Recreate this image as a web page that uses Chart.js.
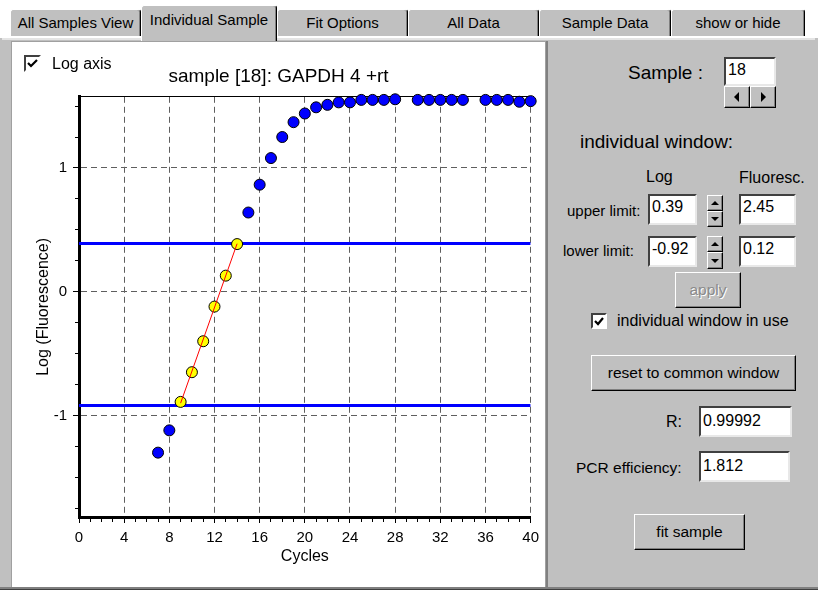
<!DOCTYPE html>
<html>
<head>
<meta charset="utf-8">
<script src="https://cdn.jsdelivr.net/npm/chart.js@4.4.1/dist/chart.umd.min.js"></script>
<style>
body { margin:0; width:818px; height:590px; overflow:hidden; background:#c0c0c0; position:relative;
       font-family:'Liberation Sans', Arial, sans-serif; color:#000; }
.t { position:absolute; white-space:nowrap; line-height:20px; }
.tab { position:absolute; top:9px; height:27px; box-sizing:border-box; background:#c0c0c0;
       border-top:1px solid #fff; border-left:1px solid #fff; border-right:1px solid #000;
       box-shadow: inset -1px 0 0 #808080; border-radius:3px 3px 0 0;
       text-align:center; font-size:15px; line-height:26px; }
.tab.sel { top:5px; height:36px; z-index:2; line-height:28px; }
.box { position:absolute; box-sizing:border-box; background:#fff; border:2px solid;
       border-color:#404040 #e8e8e8 #e8e8e8 #404040; font-size:16px; line-height:22px; padding-left:2px; }
.btn { position:absolute; box-sizing:border-box; background:#c0c0c0; border:1px solid;
       border-color:#fff #000 #000 #fff; box-shadow: inset -1px -1px 0 #808080;
       text-align:center; font-size:15.5px; }
.cb { position:absolute; width:17px; height:17px; box-sizing:border-box; background:#fff; border:2px solid;
      border-color:#404040 #fff #fff #404040; }
.up, .dn, .lf, .rt { position:absolute; width:0; height:0; left:50%; top:50%; }
.up { border-left:4px solid transparent; border-right:4px solid transparent; border-bottom:4px solid #000; margin:-2px 0 0 -4px; }
.dn { border-left:4px solid transparent; border-right:4px solid transparent; border-top:4px solid #000; margin:-2px 0 0 -4px; }
.lf { border-top:5px solid transparent; border-bottom:5px solid transparent; border-right:5px solid #000; margin:-5px 0 0 -3px; }
.rt { border-top:5px solid transparent; border-bottom:5px solid transparent; border-left:5px solid #000; margin:-5px 0 0 -2px; }
</style>
</head>
<body>

<div style="position:absolute;left:0;top:0;width:818px;height:38px;background:#fff"></div>
<div style="position:absolute;left:2px;top:38px;width:813px;height:2px;background:#e4e4e4"></div>

<div class="tab" style="left:10px;width:131px">All Samples View</div>
<div class="tab sel" style="left:141px;width:136px">Individual Sample</div>
<div class="tab" style="left:277px;width:131px">Fit Options</div>
<div class="tab" style="left:408px;width:131px">All Data</div>
<div class="tab" style="left:539px;width:132px">Sample Data</div>
<div class="tab" style="left:671px;width:134px">show or hide</div>

<!-- left page with the plot -->
<div style="position:absolute;left:11px;top:41px;width:535px;height:546px;box-sizing:border-box;background:#fff;border-left:1px solid #a0a0a0;border-top:1px solid #a0a0a0"></div>
<div style="position:absolute;left:545px;top:41px;width:1px;height:546px;background:#a0a0a0"></div>
<div style="position:absolute;left:546px;top:41px;width:2px;height:546px;background:#808080"></div>
<div style="position:absolute;left:0;top:587px;width:818px;height:2px;background:#808080"></div>
<div style="position:absolute;left:0;top:589px;width:818px;height:1px;background:#404040"></div>

<canvas id="plot" width="533" height="545" style="position:absolute;left:12px;top:42px"></canvas>

<div class="cb" style="left:24px;top:55px"><svg width="13" height="13" style="position:absolute;left:0;top:0"><polyline points="2,6 5,9 11,3" fill="none" stroke="#000" stroke-width="2.2"/></svg></div>
<div class="t" style="left:52px;top:54px;font-size:16px">Log axis</div>

<!-- right panel -->
<div class="t" style="left:628px;top:63px;font-size:19px">Sample :</div>
<div class="box" style="left:724px;top:57px;width:52px;height:29px">18</div>
<div class="btn" style="left:724px;top:86px;width:26px;height:22px"><div class="lf"></div></div>
<div class="btn" style="left:750px;top:86px;width:26px;height:22px"><div class="rt"></div></div>

<div class="t" style="left:580px;top:132px;font-size:19px">individual window:</div>
<div class="t" style="left:646px;top:167px;font-size:16px">Log</div>
<div class="t" style="left:739px;top:168px;font-size:16px">Fluoresc.</div>

<div class="t" style="left:567px;top:201px;font-size:15px">upper limit:</div>
<div class="box" style="left:648px;top:194px;width:49px;height:31px">0.39</div>
<div class="btn" style="left:707px;top:195px;width:16px;height:16px"><div class="up"></div></div>
<div class="btn" style="left:707px;top:211px;width:16px;height:16px"><div class="dn"></div></div>
<div class="box" style="left:739px;top:194px;width:57px;height:31px">2.45</div>

<div class="t" style="left:563px;top:241px;font-size:15px">lower limit:</div>
<div class="box" style="left:648px;top:236px;width:49px;height:31px">-0.92</div>
<div class="btn" style="left:707px;top:236px;width:16px;height:16px"><div class="up"></div></div>
<div class="btn" style="left:707px;top:252px;width:16px;height:17px"><div class="dn"></div></div>
<div class="box" style="left:739px;top:236px;width:57px;height:31px">0.12</div>

<div class="btn" style="left:675px;top:272px;width:66px;height:36px;line-height:33px;color:#8a8a8a;text-shadow:1px 1px 0 #fff">apply</div>

<div class="cb" style="left:591px;top:313px;width:16px;height:16px"><svg width="12" height="12" style="position:absolute;left:0;top:0"><polyline points="2,6 5,9 10,3" fill="none" stroke="#000" stroke-width="2.2"/></svg></div>
<div class="t" style="left:617px;top:311px;font-size:16px">individual window in use</div>

<div class="btn" style="left:591px;top:355px;width:205px;height:36px;line-height:33px">reset to common window</div>

<div class="t" style="left:666px;top:412px;font-size:16px">R:</div>
<div class="box" style="left:699px;top:406px;width:93px;height:31px;line-height:25px">0.99992</div>
<div class="t" style="left:576px;top:458px;font-size:15.5px">PCR efficiency:</div>
<div class="box" style="left:699px;top:451px;width:91px;height:31px;line-height:25px">1.812</div>

<div class="btn" style="left:634px;top:514px;width:111px;height:36px;line-height:33px">fit sample</div>

<script>
// sample 18, log10 fluorescence per cycle (cycles 29 and 35 not shown)
const cycles   = [7, 8, 9, 10, 11, 12, 13, 14, 15, 16, 17, 18, 19, 20, 21, 22, 23, 24, 25, 26, 27, 28,
                  30, 31, 32, 33, 34, 36, 37, 38, 39, 40];
const logFluor = [-1.30, -1.12, -0.89, -0.65, -0.40, -0.12, 0.13, 0.385, 0.64, 0.865, 1.08, 1.25, 1.37, 1.44,
                  1.49, 1.51, 1.53, 1.53, 1.55, 1.55, 1.55, 1.555,
                  1.55, 1.55, 1.55, 1.55, 1.55, 1.55, 1.55, 1.55, 1.535, 1.54];

// individual window (log) and the fitted line
const upperLimit = 0.39;
const lowerLimit = -0.92;
const fitCycles = [9, 14];
const fitLog    = [-0.90, 0.388];

const xTickLabels = [0, 4, 8, 12, 16, 20, 24, 28, 32, 36, 40];
const yTickLabels = [-1, 0, 1];

const FONT = "'Liberation Sans', Arial, sans-serif";

const inWindow = [], outside = [];
cycles.forEach(function (c, i) {
    const v = logFluor[i];
    (v >= lowerLimit && v <= upperLimit ? inWindow : outside).push({x: c, y: v});
});
const fitLine = fitCycles.map(function (c, i) { return {x: c, y: fitLog[i]}; });
const xFirst = xTickLabels[0], xLast = xTickLabels[xTickLabels.length - 1];

new Chart('plot', {
    type: 'scatter',
    data: {
        datasets: [
            { data: fitLine, showLine: true, borderColor: '#ff0000', borderWidth: 1, pointRadius: 0, clip: false },
            { data: inWindow, backgroundColor: '#ffff00', borderColor: '#000', borderWidth: 1, pointRadius: 5.5, clip: false },
            { data: outside, backgroundColor: '#0000ff', borderColor: '#000', borderWidth: 1, pointRadius: 5.5, clip: false },
            { data: [{x: xFirst, y: upperLimit}, {x: xLast, y: upperLimit}], showLine: true,
              borderColor: '#0000ff', borderWidth: 3, pointRadius: 0 },
            { data: [{x: xFirst, y: lowerLimit}, {x: xLast, y: lowerLimit}], showLine: true,
              borderColor: '#0000ff', borderWidth: 3, pointRadius: 0 }
        ]
    },
    options: {
        responsive: false,
        animation: false,
        layout: { padding: 0 },
        plugins: {
            legend: { display: false },
            tooltip: { enabled: false },
            title: {
                display: true,
                text: 'sample [18]: GAPDH 4 +rt',
                color: '#000',
                font: { family: FONT, size: 19, weight: 'normal' },
                padding: { top: 23, bottom: 9 }
            }
        },
        scales: {
            x: {
                type: 'linear', position: 'bottom', min: xFirst, max: xLast,
                afterFit: function (s) { s.height = 70; },
                ticks: {
                    stepSize: 1, autoSkip: false, maxRotation: 0, padding: 6, color: '#000',
                    font: { family: FONT, size: 15 },
                    callback: function (v) { return xTickLabels.includes(v) ? String(v) : ''; }
                },
                grid: {
                    color: function (ctx) { return ctx.tick && xTickLabels.includes(ctx.tick.value) ? '#5f5f5f' : 'rgba(0,0,0,0)'; },
                    lineWidth: 1, tickLength: 6, tickColor: '#000', tickWidth: 1,
                    tickBorderDash: function (ctx) { return ctx.tick && xTickLabels.includes(ctx.tick.value) ? [] : [3, 20]; }
                },
                border: { display: true, color: '#000', width: 3, dash: [6, 4] },
                title: {
                    display: true, text: 'Cycles', color: '#000',
                    font: { family: FONT, size: 16 }, padding: { top: 0, bottom: 21 }
                }
            },
            top: {
                type: 'linear', position: 'top', min: xFirst, max: xLast,
                afterFit: function (s) { s.height = 0; },
                ticks: { display: false },
                grid: { display: false, drawTicks: false },
                border: { display: true, color: '#000', width: 1 }
            },
            y: {
                type: 'linear', position: 'left', min: -1.82, max: 1.575,
                afterFit: function (s) { s.width = 67; },
                ticks: {
                    stepSize: 0.25, includeBounds: false, autoSkip: false, padding: 6, color: '#000',
                    font: { family: FONT, size: 15 },
                    callback: function (v) { return yTickLabels.includes(v) ? String(v) : ''; }
                },
                grid: {
                    color: function (ctx) { return ctx.tick && yTickLabels.includes(ctx.tick.value) ? '#5f5f5f' : 'rgba(0,0,0,0)'; },
                    lineWidth: 1, tickLength: 6, tickColor: '#000', tickWidth: 1,
                    tickBorderDash: function (ctx) { return ctx.tick && yTickLabels.includes(ctx.tick.value) ? [] : [0, 2, 3, 20]; }
                },
                border: { display: true, color: '#000', width: 3, dash: [6, 4] },
                title: {
                    display: true, text: 'Log (Fluorescence)', color: '#000',
                    font: { family: FONT, size: 16 }, padding: { top: 22, bottom: 0 }
                }
            }
        }
    }
});
</script>
</body>
</html>
